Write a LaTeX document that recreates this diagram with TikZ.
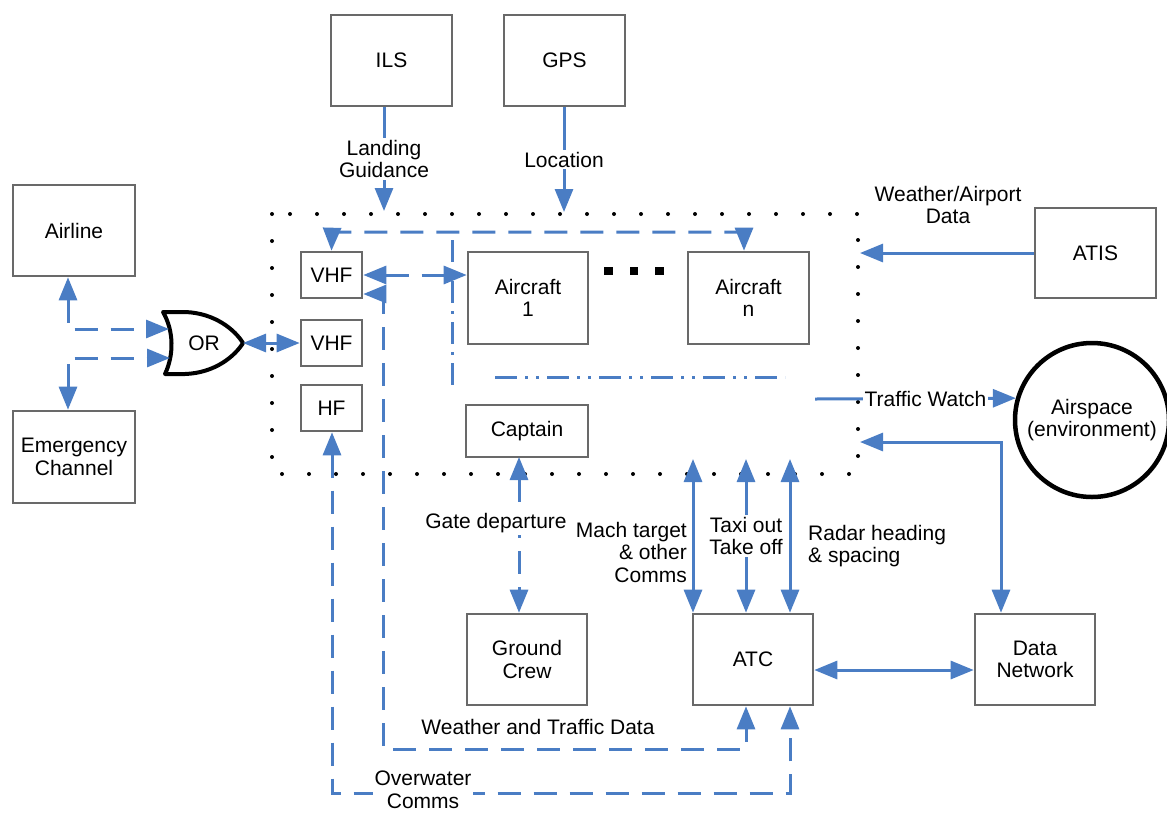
\documentclass[tikz,border=0pt]{standalone}
\usepackage{fontspec}
\setmainfont{Liberation Sans}
\usetikzlibrary{arrows.meta}
\definecolor{linkblue}{RGB}{74,125,196}
\definecolor{boxgray}{RGB}{105,105,105}
\begin{document}
\begin{tikzpicture}[x=1pt,y=-1pt,
  every node/.style={font=\fontsize{21}{22.5}\selectfont, inner sep=0pt, align=center, text=black},
  box/.style 2 args={draw=boxgray, line width=2.6pt, fill=white, rectangle,
    minimum width=#1, minimum height=#2},
  flow/.style={linkblue, line width=3pt},
  dashflow/.style={flow, dash pattern=on 23pt off 13pt},
  tag/.style={fill=white, inner xsep=2pt, inner ysep=2pt, text=black},
  >={Triangle[length=23pt,width=18pt]}]

\useasboundingbox (0,0) rectangle (1167,812);

% system boundary
\draw[line width=4pt, line cap=round, dash pattern=on 0pt off 27pt] (272,214) rectangle (858,474);

% blocks
\node[box={121pt}{91pt}] (ILS) at (391.5,60.5) {ILS};
\node[box={121pt}{91pt}] (GPS) at (564.5,60.5) {GPS};
\node[box={122pt}{91pt}] (Airline) at (74,230.5) {Airline};
\node[box={122pt}{92pt}] (Emergency) at (74,457) {Emergency\\Channel};
\node[box={61pt}{46pt}] (VHFa) at (331.5,275) {VHF};
\node[box={61pt}{46pt}] (VHFb) at (331.5,343) {VHF};
\node[box={61pt}{46pt}] (HF) at (331.5,408) {HF};
\node[box={120pt}{92pt}] (AC1) at (528,298) {Aircraft\\1};
\node[box={121pt}{92pt}] (ACn) at (748.5,298) {Aircraft\\n};
\node[box={122pt}{52pt}] (Captain) at (527,431) {Captain};
\node[box={120pt}{91pt}] (Ground) at (527,659.5) {Ground\\Crew};
\node[box={120pt}{91pt}] (ATC) at (753,659.5) {ATC};
\node[box={120pt}{91pt}] (DataNet) at (1035,659.5) {Data\\Network};
\node[box={121pt}{90pt}] (ATIS) at (1095.5,253) {ATIS};
\node[draw=black, line width=4.5pt, circle, minimum size=154pt, fill=white] (Airspace) at (1092,420) {Airspace\\(environment)};

% ellipsis between aircraft
\foreach \xx in {608.5,634,659.5}
  \fill (\xx-4.25,266.75) rectangle (\xx+4.25,275.25);

% OR gate
\draw[line width=4pt, line join=round, fill=white]
  (163,312) -- (185,312) .. controls (215,313) and (235,330) .. (243,343)
  .. controls (235,356) and (215,373) .. (185,374) -- (165,374)
  .. controls (174,355) and (174,331) .. (163,312) -- cycle;
\node (OR) at (204,343) {OR};
\coordinate (orin1) at (169,329);
\coordinate (orin2) at (170,358);
\coordinate (orout) at (243,343);

% helper points
\coordinate (ain) at (68,329);
\coordinate (ein) at (68,358);
\coordinate (ilsin) at (384,211);
\coordinate (gpsin) at (564,212);
\coordinate (atisin) at (860,253);
\coordinate (netin) at (860,442);
\coordinate (netcorner) at (1001,442);
\coordinate (twstart) at (815,399);
\coordinate (topl) at (332,232);
\coordinate (topr) at (744,232);
\coordinate (wtcorner) at (383,294);
\coordinate (wtend) at (746,749);
\coordinate (owstart) at (332,793);
\coordinate (owend) at (790,793);
\coordinate (mach) at (693,459);
\coordinate (taxi) at (746,459);
\coordinate (radar) at (790,459);
\coordinate (gate) at (519,457);

% group outline of the aircraft
\draw[flow, dash pattern=on 22pt off 8pt on 3pt off 8pt] (452,240) -- (452,388);
\draw[flow, dash pattern=on 22pt off 8pt on 3pt off 8pt on 3pt off 8pt] (495,377) -- (785,377);

% airline / emergency to OR gate
\draw[dashflow,<->] (Airline.south -| ain) -- (ain) -- (orin1);
\draw[dashflow,<->] (Emergency.north -| ein) -- (ein) -- (orin2);
\draw[flow,<->] (orout) -- (VHFb.west);

% inputs to the aircraft
\draw[flow,->] (ILS.south -| ilsin) -- node[tag]{Landing\\Guidance} (ilsin);
\draw[flow,->] (GPS.south -| gpsin) -- node[tag]{Location} (gpsin);
\draw[flow,->] (ATIS.west) -- (atisin);
\node at (948,205) {Weather/Airport\\Data};

% radio links
\draw[dashflow,<->] (VHFa.north) -- (topl) -- (topr) -- (topr |- ACn.north);
\draw[dashflow,<->] (VHFa.east) -- (VHFa.east -| AC1.west);
\draw[dashflow,<->] (VHFa.east |- wtcorner) -- (wtcorner) |- (wtend) -- (wtend |- ATC.south);
\node at (538,727) {Weather and Traffic Data};
\draw[dashflow,<->] (HF.south -| owstart) -- (owstart) -- (owend) -- (owend |- ATC.south);
\node[tag, inner ysep=0pt] at (423,790) {Overwater\\Comms};

% captain and ground crew
\draw[dashflow,<->] (gate) -- (gate |- Ground.north);
\node[tag] at (496,523) {Gate departure};

% ATC links
\draw[flow,<->] (mach) -- (mach |- ATC.north);
\node[anchor=east, align=right] at (687,552) {Mach target\\\& other\\Comms};
\draw[flow,<->] (taxi) -- node[tag, pos=0.5]{Taxi out\\Take off} (taxi |- ATC.north);
\draw[flow,<->] (radar) -- (radar |- ATC.north);
\node[anchor=west, align=left] at (808,546) {Radar heading\\\& spacing};
\draw[flow,<->] ([yshift=-10.5pt]ATC.east) -- ([yshift=-10.5pt]DataNet.west);

% airspace and data network
\draw[flow,->] (twstart) -- node[tag, pos=0.55]{Traffic Watch} (Airspace.164);
\draw[flow,<->] (netin) -- (netcorner) -- (netcorner |- DataNet.north);
\end{tikzpicture}
\end{document}
